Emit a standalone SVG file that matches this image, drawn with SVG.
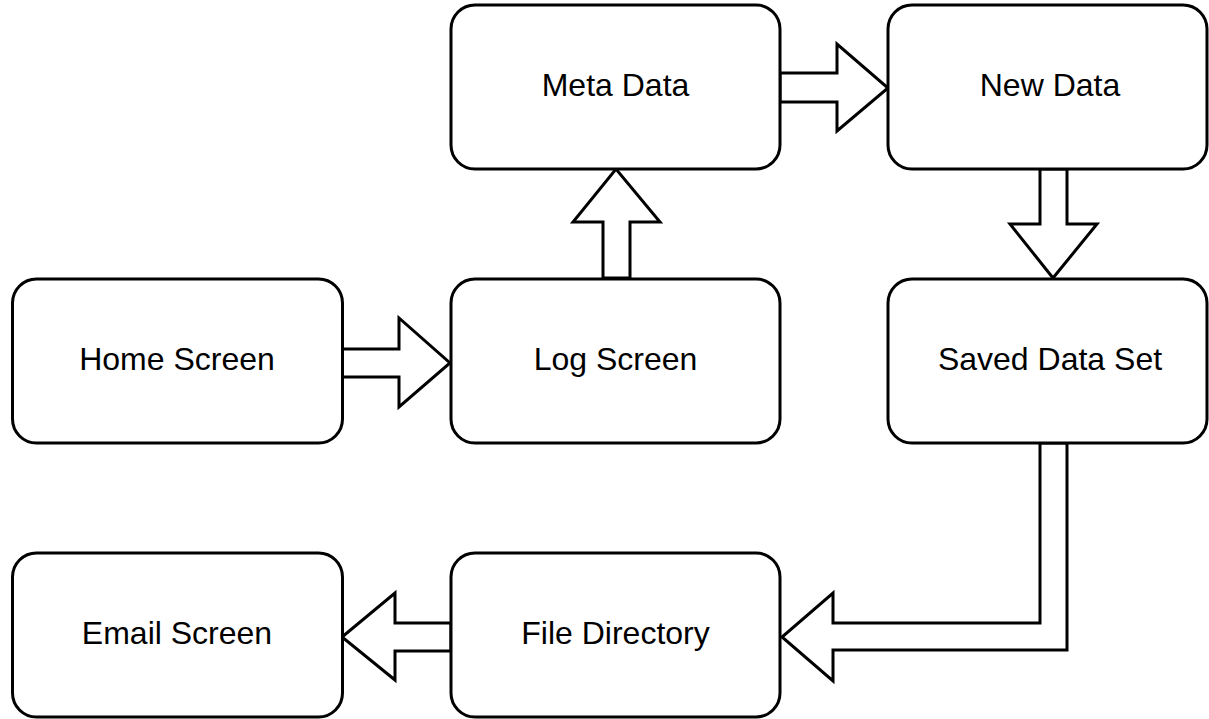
<svg xmlns="http://www.w3.org/2000/svg" width="1209" height="719" viewBox="0 0 1209 719">
  <style>
    .box { fill: #ffffff; stroke: #000000; stroke-width: 3; }
    .lbl { font-family: "Liberation Sans", Arial, sans-serif; font-size: 32px; fill: #000000; text-anchor: middle; }
    .arr { fill: #ffffff; stroke: #000000; stroke-width: 3; stroke-linejoin: miter; }
  </style>
  <rect width="1209" height="719" fill="#ffffff"/>
  <g id="connectors">
    <polygon class="arr" points="342,349 399,349 399,318 450,363 399,407 399,377 342,377"/>
    <polygon class="arr" points="603,278 603,222 573,222 616,169 660,222 630,222 630,278"/>
    <polygon class="arr" points="780,73 837,73 837,44 888,88 837,131 837,102 780,102"/>
    <polygon class="arr" points="1040,169 1040,224 1010,224 1053,278 1097,224 1067,224 1067,169"/>
    <polygon class="arr" points="1067,443 1067,650 833,650 833,681 782,637 833,593 833,623 1040,623 1040,443"/>
    <polygon class="arr" points="451,623 395,623 395,593 342,637 395,680 395,651 451,651"/>
  </g>
  <g id="home-screen">
    <rect class="box" x="12.5" y="279" width="330" height="164" rx="24" ry="24"/>
    <text class="lbl" x="177" y="370">Home Screen</text>
  </g>
  <g id="log-screen">
    <rect class="box" x="451" y="279" width="329" height="164" rx="24" ry="24"/>
    <text class="lbl" x="615.5" y="370">Log Screen</text>
  </g>
  <g id="meta-data">
    <rect class="box" x="451" y="5" width="329" height="164" rx="24" ry="24"/>
    <text class="lbl" x="615.5" y="96">Meta Data</text>
  </g>
  <g id="new-data">
    <rect class="box" x="888" y="5" width="319" height="164" rx="24" ry="24"/>
    <text class="lbl" x="1050" y="96">New Data</text>
  </g>
  <g id="saved-data-set">
    <rect class="box" x="888" y="279" width="319" height="164" rx="24" ry="24"/>
    <text class="lbl" x="1050" y="370">Saved Data Set</text>
  </g>
  <g id="file-directory">
    <rect class="box" x="451" y="553" width="329" height="164" rx="24" ry="24"/>
    <text class="lbl" x="615.5" y="644">File Directory</text>
  </g>
  <g id="email-screen">
    <rect class="box" x="12.5" y="553" width="330" height="164" rx="24" ry="24"/>
    <text class="lbl" x="177" y="644">Email Screen</text>
  </g>
</svg>
